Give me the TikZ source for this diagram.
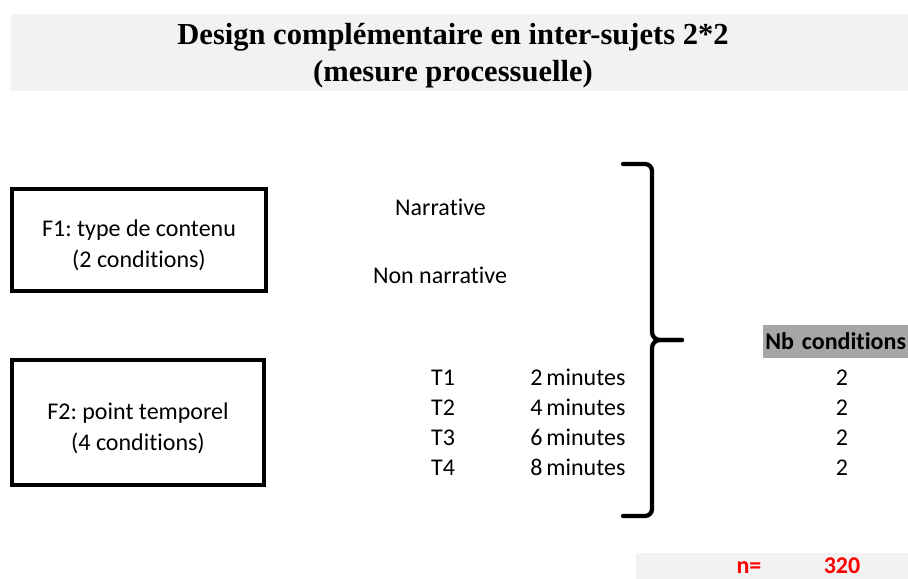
\documentclass[tikz,border=0pt]{standalone}
\usepackage{fontspec}
\setmainfont{Carlito}[Ligatures=NoCommon]
\newfontfamily\titlefont{Liberation Serif}
\usetikzlibrary{positioning}
\definecolor{bandgray}{HTML}{F2F2F2}
\definecolor{headgray}{HTML}{A6A6A6}
\definecolor{countred}{HTML}{FF0000}
\newcommand{\cellfont}{\fontsize{18}{23}\selectfont}
\frenchspacing

\begin{document}
\begin{tikzpicture}[
    x=0.75pt, y=-0.75pt,
    factor/.style={draw, line width=3pt, inner sep=0pt, align=center, font=\cellfont},
    cell/.style={inner sep=0pt, anchor=base, font=\cellfont},
    heading/.style={inner sep=0pt, anchor=base, font=\titlefont\bfseries\fontsize{22.9}{27}\selectfont},
    brace/.style={line width=3.2pt, line cap=round, line join=round},
]
\useasboundingbox (0,0) rectangle (908,579);

% Title band
\fill[bandgray] (11,14) rectangle (908,91);
\node[heading] (title) at (453,44) {Design complémentaire en inter-sujets 2*2};
\node[heading] (subtitle) at (453,81) {(mesure processuelle)};

% Factor boxes
\node[factor, minimum width=190.5pt, minimum height=76.5pt] (f1) at (139,240) {\rule{0pt}{20pt}F1: type de contenu\\(2 conditions)};
\node[factor, minimum width=189pt, minimum height=93.75pt] (f2) at (138,422.5) {\rule{0pt}{21pt}F2: point temporel\\(4 conditions)};

% Levels of F1
\node[cell] (narr) at (440.5,215) {Narrative};
\node[cell] (nonnarr) at (440,283) {Non narrative};

% Levels of F2 and counts
\node[cell, fill=headgray, minimum height=24.75pt, text depth=0pt, anchor=west, text width=108.75pt, inner xsep=1.5pt] (nbhead) at (763,341.5) {\bfseries Nb conditions};
\foreach \i/\m [count=\k] in {1/2, 2/4, 3/6, 4/8} {
  \node[cell] (t\i) at (443,{355+30*\k}) {T\i};
  \node[cell, anchor=base west] (min\i) at (530,{355+30*\k}) {\m\,minutes};
  \node[cell] (nb\i) at (842,{355+30*\k}) {2};
}

% Brace
\draw[brace] (623,164) -- (645,164) to[out=0,in=90] (652,171) -- (652,332) to[out=-90,in=180] (660,340) -- (682,340);
\draw[brace] (682,340) -- (660,340) to[out=180,in=90] (652,348) -- (652,509) to[out=-90,in=0] (645,516) -- (623,516);

% Total
\fill[bandgray] (636,553) rectangle (908,579);
\node[cell, font=\cellfont\bfseries, text=countred] (neq) at (749,573) {n=};
\node[cell, font=\cellfont\bfseries, text=countred] (total) at (842,573) {320};

\end{tikzpicture}
\end{document}
